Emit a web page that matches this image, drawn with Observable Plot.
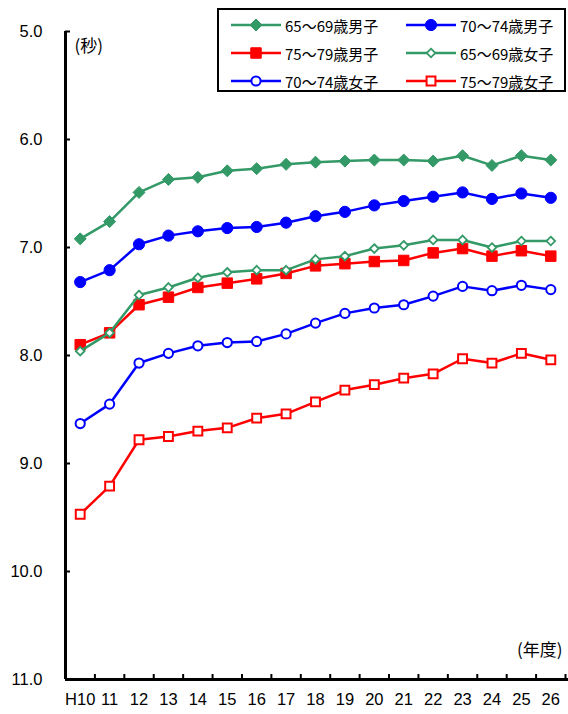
<!DOCTYPE html>
<html><head><meta charset="utf-8">
<script src="https://cdn.jsdelivr.net/npm/d3@7"></script>
<script src="https://cdn.jsdelivr.net/npm/@observablehq/plot@0.6"></script>
<style>
body{margin:0;background:#fff;}
#wrap{position:relative;width:568px;height:714px;}
#legend{position:absolute;left:217px;top:8px;width:345px;height:80px;border:2px solid #000;background:#fff;}
.item{position:absolute;display:flex;align-items:center;font-family:"Noto Sans CJK JP";font-size:15px;color:#000;white-space:nowrap;}
.item svg{display:block;margin-right:4px;}
</style></head><body><div id="wrap"><div id="legend"></div></div>
<script>
const years = ["H10","11","12","13","14","15","16","17","18","19","20","21","22","23","24","25","26"];
const seriesNames = ["65～69歳男子","70～74歳男子","75～79歳男子","65～69歳女子","70～74歳女子","75～79歳女子"];
const male6569   = [6.92,6.76,6.49,6.37,6.35,6.29,6.27,6.23,6.21,6.20,6.19,6.19,6.20,6.15,6.24,6.15,6.19];
const male7074   = [7.32,7.21,6.97,6.89,6.85,6.82,6.81,6.77,6.71,6.67,6.61,6.57,6.53,6.49,6.55,6.50,6.54];
const male7579   = [7.90,7.79,7.53,7.46,7.37,7.33,7.29,7.24,7.17,7.15,7.13,7.12,7.05,7.01,7.08,7.03,7.08];
const female6569 = [7.96,7.79,7.44,7.37,7.28,7.23,7.21,7.21,7.11,7.08,7.01,6.98,6.93,6.93,7.00,6.94,6.94];
const female7074 = [8.63,8.45,8.07,7.98,7.91,7.88,7.87,7.80,7.70,7.61,7.56,7.53,7.45,7.36,7.40,7.35,7.39];
const female7579 = [9.47,9.21,8.78,8.75,8.70,8.67,8.58,8.54,8.43,8.32,8.27,8.21,8.17,8.03,8.07,7.98,8.04];
const yTicks = [5,6,7,8,9,10,11];

const seriesValues = [male6569, male7074, male7579, female6569, female7074, female7579];
const styles = [
  {color:"#339966", symbol:"diamond2", r:5.4, fill:"#339966", sw:1},
  {color:"#0000ff", symbol:"circle",   r:5.6, fill:"#0000ff", sw:1},
  {color:"#ff0000", symbol:"square",   r:5.9, fill:"#ff0000", sw:1},
  {color:"#339966", symbol:"diamond2", r:3.9, fill:"#ffffff", sw:1.8},
  {color:"#0000ff", symbol:"circle",   r:4.6, fill:"#ffffff", sw:2},
  {color:"#ff0000", symbol:"square",   r:5.0, fill:"#ffffff", sw:2}
];

const rows = [];
seriesNames.forEach((name, s) => seriesValues[s].forEach((v, i) => rows.push({s, name, i, v})));

const seriesMarks = [];
seriesNames.forEach((name, s) => {
  const d = rows.filter(r => r.s === s);
  const st = styles[s];
  seriesMarks.push(Plot.line(d, {x:"i", y:"v", stroke:st.color, strokeWidth:2.5}));
  seriesMarks.push(Plot.dot(d, {x:"i", y:"v", symbol:st.symbol, r:st.r, fill:st.fill, stroke:st.color, strokeWidth:st.sw}));
});

const boundaries = d3.range(years.length).map(i => i + 0.5);

const chart = Plot.plot({
  width:568, height:714,
  marginLeft:65, marginRight:3, marginTop:31, marginBottom:35,
  x:{type:"linear", domain:[-0.5, years.length - 0.5], axis:null},
  y:{domain:[5,11], reverse:true, axis:null},
  style:{fontFamily:"Liberation Sans", fontSize:"16.5px", color:"#000", background:"#fff"},
  marks:[
    Plot.axisY(yTicks, {tickSize:0, tickPadding:23, tickFormat:d3.format(".1f"), fontSize:16.5, label:null}),
    Plot.axisX(d3.range(years.length), {tickSize:0, tickPadding:14, tickFormat:i => years[i], fontSize:16.5, label:null}),
    Plot.tickX(boundaries, {x:d => d, insetTop:643, strokeWidth:2, stroke:"#000"}),
    Plot.tickY(yTicks, {y:d => d, insetRight:495, strokeWidth:2, stroke:"#000"}),
    Plot.ruleX([-0.5], {stroke:"#000", strokeWidth:3}),
    Plot.ruleY([11], {stroke:"#000", strokeWidth:3, insetRight:-3}),
    Plot.text(["(秒)"], {frameAnchor:"top-left", dx:9, dy:8, textAnchor:"start", fontFamily:"Noto Sans CJK JP", fontSize:17}),
    Plot.text(["(年度)"], {frameAnchor:"bottom-right", dx:-3, dy:-24, textAnchor:"end", fontFamily:"Noto Sans CJK JP", fontSize:17}),
    ...seriesMarks
  ]
});
const wrap = document.getElementById("wrap");
wrap.insertBefore(chart, wrap.firstChild);

// legend
const legend = document.getElementById("legend");
const symMap = {diamond2:d3.symbolDiamond2, circle:d3.symbolCircle, square:d3.symbolSquare};
const legendPos = [[0,0],[1,0],[0,1],[1,1],[0,2],[1,2]];
seriesNames.forEach((name, s) => {
  const st = styles[s];
  const [c, r] = legendPos[s];
  const item = document.createElement("div");
  item.className = "item";
  item.style.left = (c === 0 ? 12 : 187) + "px";
  item.style.top = (6 + r * 28) + "px";
  item.style.height = "18px";
  const svg = d3.create("svg").attr("width", 50).attr("height", 18);
  svg.append("line").attr("x1", 0).attr("x2", 50).attr("y1", 9).attr("y2", 9).attr("stroke", st.color).attr("stroke-width", 2.5);
  svg.append("path").attr("transform", "translate(25,9)")
    .attr("d", d3.symbol(symMap[st.symbol], Math.PI * st.r * st.r)())
    .attr("fill", st.fill).attr("stroke", st.color).attr("stroke-width", st.sw);
  item.appendChild(svg.node());
  const span = document.createElement("span");
  span.textContent = name;
  item.appendChild(span);
  legend.appendChild(item);
});
</script></body></html>
